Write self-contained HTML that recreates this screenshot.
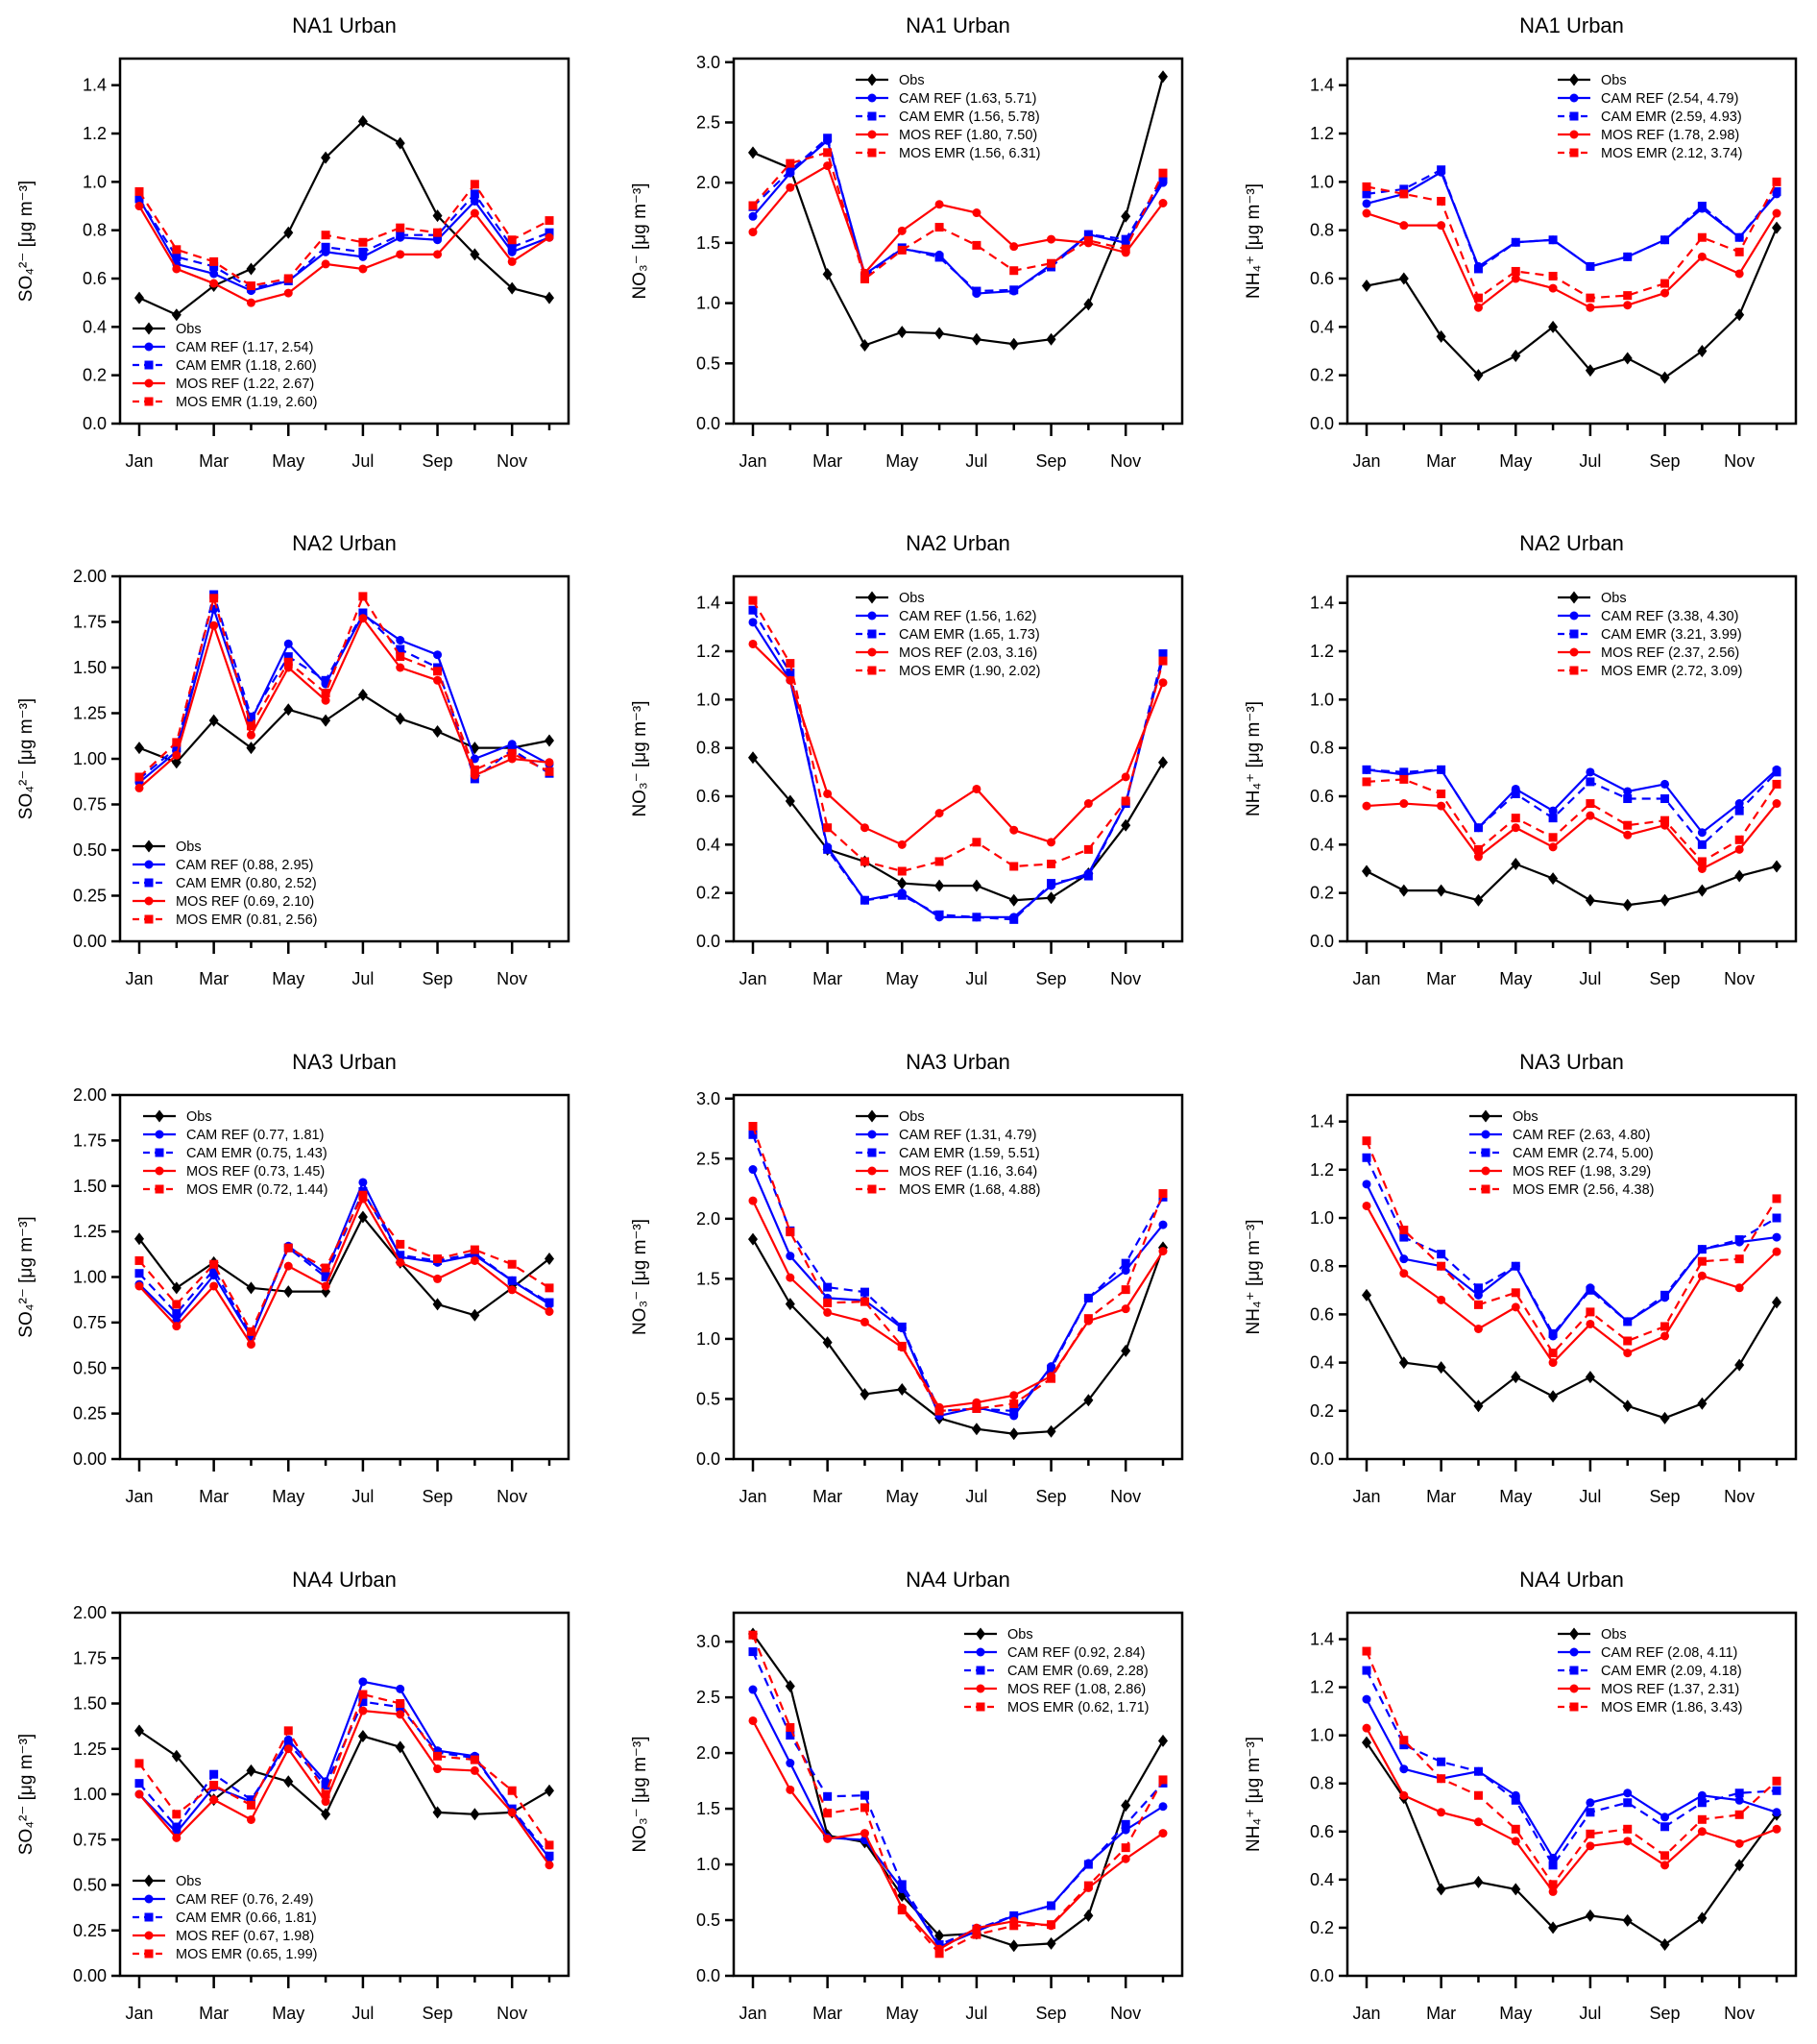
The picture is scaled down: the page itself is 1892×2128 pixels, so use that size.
<!DOCTYPE html>
<html><head><meta charset="utf-8"><style>
html,body{margin:0;padding:0;background:#fff}
svg{display:block;font-family:"Liberation Sans","DejaVu Sans",sans-serif}
</style></head><body>
<svg id="fig" width="1892" height="2128" viewBox="0 0 1892 2128" xmlns="http://www.w3.org/2000/svg"></svg>
<script>
const months = ["Jan","Feb","Mar","Apr","May","Jun","Jul","Aug","Sep","Oct","Nov","Dec"];
const seriesNames = ["Obs","CAM REF","CAM EMR","MOS REF","MOS EMR"];

const p1_obs=[.52,.45,.57,.64,.79,1.10,1.25,1.16,.86,.70,.56,.52];
const p1_camref=[.93,.66,.62,.55,.59,.71,.69,.77,.76,.92,.71,.77];
const p1_camemr=[.93,.69,.65,.56,.59,.73,.71,.78,.78,.95,.73,.79];
const p1_mosref=[.90,.64,.58,.50,.54,.66,.64,.70,.70,.87,.67,.77];
const p1_mosemr=[.96,.72,.67,.57,.60,.78,.75,.81,.79,.99,.76,.84];
const p1_leg=["(1.17, 2.54)","(1.18, 2.60)","(1.22, 2.67)","(1.19, 2.60)"];

const p2_obs=[2.25,2.12,1.24,.65,.76,.75,.70,.66,.70,.99,1.72,2.88];
const p2_camref=[1.72,2.08,2.35,1.24,1.45,1.40,1.08,1.10,1.32,1.57,1.50,2.00];
const p2_camemr=[1.80,2.10,2.37,1.22,1.46,1.38,1.10,1.11,1.30,1.57,1.53,2.03];
const p2_mosref=[1.59,1.96,2.14,1.25,1.60,1.82,1.75,1.47,1.53,1.50,1.42,1.83];
const p2_mosemr=[1.81,2.16,2.25,1.20,1.44,1.63,1.48,1.27,1.33,1.52,1.45,2.08];
const p2_leg=["(1.63, 5.71)","(1.56, 5.78)","(1.80, 7.50)","(1.56, 6.31)"];

const p3_obs=[.57,.60,.36,.20,.28,.40,.22,.27,.19,.30,.45,.81];
const p3_camref=[.91,.95,1.04,.65,.75,.76,.65,.69,.76,.89,.77,.95];
const p3_camemr=[.95,.97,1.05,.64,.75,.76,.65,.69,.76,.90,.77,.96];
const p3_mosref=[.87,.82,.82,.48,.60,.56,.48,.49,.54,.69,.62,.87];
const p3_mosemr=[.98,.95,.92,.52,.63,.61,.52,.53,.58,.77,.71,1.00];
const p3_leg=["(2.54, 4.79)","(2.59, 4.93)","(1.78, 2.98)","(2.12, 3.74)"];

const p4_obs=[1.06,.98,1.21,1.06,1.27,1.21,1.35,1.22,1.15,1.06,1.06,1.10];
const p4_camref=[.87,1.04,1.82,1.21,1.63,1.41,1.79,1.65,1.57,1.00,1.08,.97];
const p4_camemr=[.89,1.06,1.90,1.23,1.56,1.43,1.80,1.60,1.50,.89,1.05,.92];
const p4_mosref=[.84,1.02,1.73,1.13,1.50,1.32,1.77,1.50,1.43,.91,1.00,.98];
const p4_mosemr=[.90,1.09,1.88,1.18,1.53,1.36,1.89,1.56,1.48,.94,1.03,.93];
const p4_leg=["(0.88, 2.95)","(0.80, 2.52)","(0.69, 2.10)","(0.81, 2.56)"];

const p5_obs=[.76,.58,.38,.33,.24,.23,.23,.17,.18,.28,.48,.74];
const p5_camref=[1.32,1.08,.39,.17,.20,.10,.10,.10,.23,.28,.57,1.17];
const p5_camemr=[1.37,1.11,.38,.17,.19,.11,.10,.09,.24,.27,.57,1.19];
const p5_mosref=[1.23,1.08,.61,.47,.40,.53,.63,.46,.41,.57,.68,1.07];
const p5_mosemr=[1.41,1.15,.47,.33,.29,.33,.41,.31,.32,.38,.58,1.16];
const p5_leg=["(1.56, 1.62)","(1.65, 1.73)","(2.03, 3.16)","(1.90, 2.02)"];

const p6_obs=[.29,.21,.21,.17,.32,.26,.17,.15,.17,.21,.27,.31];
const p6_camref=[.71,.69,.71,.47,.63,.54,.70,.62,.65,.45,.57,.71];
const p6_camemr=[.71,.70,.71,.47,.61,.51,.66,.59,.59,.40,.54,.70];
const p6_mosref=[.56,.57,.56,.35,.47,.39,.52,.44,.48,.30,.38,.57];
const p6_mosemr=[.66,.67,.61,.38,.51,.43,.57,.48,.50,.33,.42,.65];
const p6_leg=["(3.38, 4.30)","(3.21, 3.99)","(2.37, 2.56)","(2.72, 3.09)"];

const p7_obs=[1.21,.94,1.08,.94,.92,.92,1.33,1.08,.85,.79,.94,1.10];
const p7_camref=[.96,.76,1.01,.67,1.17,1.02,1.52,1.11,1.08,1.12,.98,.85];
const p7_camemr=[1.02,.80,1.04,.68,1.16,1.00,1.47,1.12,1.09,1.13,.98,.86];
const p7_mosref=[.95,.73,.95,.63,1.06,.95,1.43,1.08,.99,1.09,.93,.81];
const p7_mosemr=[1.09,.85,1.07,.70,1.16,1.05,1.45,1.18,1.10,1.15,1.07,.94];
const p7_leg=["(0.77, 1.81)","(0.75, 1.43)","(0.73, 1.45)","(0.72, 1.44)"];

const p8_obs=[1.83,1.29,.97,.54,.58,.34,.25,.21,.23,.49,.90,1.76];
const p8_camref=[2.41,1.69,1.34,1.32,1.09,.36,.43,.36,.77,1.34,1.57,1.95];
const p8_camemr=[2.70,1.90,1.43,1.39,1.10,.40,.42,.40,.75,1.34,1.63,2.18];
const p8_mosref=[2.15,1.51,1.22,1.14,.93,.43,.47,.53,.69,1.15,1.25,1.73];
const p8_mosemr=[2.77,1.89,1.30,1.31,.94,.40,.42,.46,.67,1.17,1.41,2.21];
const p8_leg=["(1.31, 4.79)","(1.59, 5.51)","(1.16, 3.64)","(1.68, 4.88)"];

const p9_obs=[.68,.40,.38,.22,.34,.26,.34,.22,.17,.23,.39,.65];
const p9_camref=[1.14,.83,.80,.68,.80,.51,.71,.57,.67,.87,.90,.92];
const p9_camemr=[1.25,.92,.85,.71,.80,.52,.70,.57,.68,.87,.91,1.00];
const p9_mosref=[1.05,.77,.66,.54,.63,.40,.56,.44,.51,.76,.71,.86];
const p9_mosemr=[1.32,.95,.80,.64,.69,.44,.61,.49,.55,.82,.83,1.08];
const p9_leg=["(2.63, 4.80)","(2.74, 5.00)","(1.98, 3.29)","(2.56, 4.38)"];

const p10_obs=[1.35,1.21,.97,1.13,1.07,.89,1.32,1.26,.90,.89,.90,1.02];
const p10_camref=[1.00,.79,1.04,.96,1.30,1.07,1.62,1.58,1.24,1.21,.91,.65];
const p10_camemr=[1.06,.82,1.11,.97,1.28,1.05,1.51,1.48,1.23,1.20,.92,.66];
const p10_mosref=[1.00,.76,.97,.86,1.25,.96,1.46,1.44,1.14,1.13,.90,.61];
const p10_mosemr=[1.17,.89,1.05,.94,1.35,1.00,1.55,1.50,1.21,1.19,1.02,.72];
const p10_leg=["(0.76, 2.49)","(0.66, 1.81)","(0.67, 1.98)","(0.65, 1.99)"];

const p11_obs=[3.07,2.60,1.26,1.20,.72,.36,.38,.27,.29,.54,1.53,2.11];
const p11_camref=[2.57,1.91,1.24,1.22,.78,.26,.40,.54,.63,1.01,1.31,1.52];
const p11_camemr=[2.91,2.16,1.61,1.62,.82,.28,.42,.54,.63,1.00,1.36,1.73];
const p11_mosref=[2.29,1.67,1.23,1.28,.61,.24,.43,.49,.45,.79,1.05,1.28];
const p11_mosemr=[3.06,2.23,1.46,1.51,.59,.20,.37,.45,.46,.81,1.15,1.76];
const p11_leg=["(0.92, 2.84)","(0.69, 2.28)","(1.08, 2.86)","(0.62, 1.71)"];

const p12_obs=[.97,.74,.36,.39,.36,.20,.25,.23,.13,.24,.46,.67];
const p12_camref=[1.15,.86,.82,.85,.75,.49,.72,.76,.66,.75,.73,.68];
const p12_camemr=[1.27,.96,.89,.85,.73,.46,.68,.72,.62,.72,.76,.77];
const p12_mosref=[1.03,.75,.68,.64,.56,.35,.54,.56,.46,.60,.55,.61];
const p12_mosemr=[1.35,.98,.82,.75,.61,.38,.59,.61,.50,.65,.67,.81];
const p12_leg=["(2.08, 4.11)","(2.09, 4.18)","(1.37, 2.31)","(1.86, 3.43)"];

const ticksA=[0,0.2,0.4,0.6,0.8,1.0,1.2,1.4];
const ticksB=[0,0.5,1.0,1.5,2.0,2.5,3.0];
const ticksC=[0,0.25,0.5,0.75,1.0,1.25,1.5,1.75,2.0];
const ticksD=[0,0.2,0.4,0.6,0.8,1.0,1.2,1.4];

const NS="http://www.w3.org/2000/svg";
const svg=document.getElementById('fig');
function mk(tag,attrs,parent){const e=document.createElementNS(NS,tag);for(const k in attrs)e.setAttribute(k,attrs[k]);(parent||svg).appendChild(e);return e;}

const colX=[[125,592],[764,1231],[1403,1870]];
const rowY=[[61,441],[600,980],[1140,1519],[1679,2057]];
const labSO4="SO₄²⁻  [μg m⁻³]", labNO3="NO₃⁻ [μg m⁻³]", labNH4="NH₄⁺ [μg m⁻³]";

const panels=[
 {r:0,c:0,t:"NA1 Urban",d:[p1_obs,p1_camref,p1_camemr,p1_mosref,p1_mosemr],L:p1_leg,ymax:1.51,ticks:ticksA,dec:1,lab:labSO4,leg:{dx:13,bottom:true}},
 {r:0,c:1,t:"NA1 Urban",d:[p2_obs,p2_camref,p2_camemr,p2_mosref,p2_mosemr],L:p2_leg,ymax:3.03,ticks:ticksB,dec:1,lab:labNO3,leg:{dx:127}},
 {r:0,c:2,t:"NA1 Urban",d:[p3_obs,p3_camref,p3_camemr,p3_mosref,p3_mosemr],L:p3_leg,ymax:1.51,ticks:ticksD,dec:1,lab:labNH4,leg:{dx:219}},
 {r:1,c:0,t:"NA2 Urban",d:[p4_obs,p4_camref,p4_camemr,p4_mosref,p4_mosemr],L:p4_leg,ymax:2.0,ticks:ticksC,dec:2,lab:labSO4,leg:{dx:13,bottom:true}},
 {r:1,c:1,t:"NA2 Urban",d:[p5_obs,p5_camref,p5_camemr,p5_mosref,p5_mosemr],L:p5_leg,ymax:1.51,ticks:ticksD,dec:1,lab:labNO3,leg:{dx:127}},
 {r:1,c:2,t:"NA2 Urban",d:[p6_obs,p6_camref,p6_camemr,p6_mosref,p6_mosemr],L:p6_leg,ymax:1.51,ticks:ticksD,dec:1,lab:labNH4,leg:{dx:219}},
 {r:2,c:0,t:"NA3 Urban",d:[p7_obs,p7_camref,p7_camemr,p7_mosref,p7_mosemr],L:p7_leg,ymax:2.0,ticks:ticksC,dec:2,lab:labSO4,leg:{dx:24}},
 {r:2,c:1,t:"NA3 Urban",d:[p8_obs,p8_camref,p8_camemr,p8_mosref,p8_mosemr],L:p8_leg,ymax:3.03,ticks:ticksB,dec:1,lab:labNO3,leg:{dx:127}},
 {r:2,c:2,t:"NA3 Urban",d:[p9_obs,p9_camref,p9_camemr,p9_mosref,p9_mosemr],L:p9_leg,ymax:1.51,ticks:ticksD,dec:1,lab:labNH4,leg:{dx:127}},
 {r:3,c:0,t:"NA4 Urban",d:[p10_obs,p10_camref,p10_camemr,p10_mosref,p10_mosemr],L:p10_leg,ymax:2.0,ticks:ticksC,dec:2,lab:labSO4,leg:{dx:13,bottom:true}},
 {r:3,c:1,t:"NA4 Urban",d:[p11_obs,p11_camref,p11_camemr,p11_mosref,p11_mosemr],L:p11_leg,ymax:3.26,ticks:ticksB,dec:1,lab:labNO3,leg:{dx:240}},
 {r:3,c:2,t:"NA4 Urban",d:[p12_obs,p12_camref,p12_camemr,p12_mosref,p12_mosemr],L:p12_leg,ymax:1.51,ticks:ticksD,dec:1,lab:labNH4,leg:{dx:219}}
];
const colors=["#000","#0000ff","#0000ff","#ff0000","#ff0000"];
const dashes=[null,null,"9,6",null,"9,6"];
const mtype=["d","o","s","o","s"];

function marker(g,type,x,y,col){
  let m;
  if(type==="d") m=mk('polygon',{points:`${x},${y-6.5} ${x+5},${y} ${x},${y+6.5} ${x-5},${y}`,fill:col},g);
  else if(type==="o") m=mk('circle',{cx:x,cy:y,r:4.5,fill:col},g);
  else m=mk('rect',{x:x-4.5,y:y-4.5,width:9,height:9,fill:col},g);
  return m;
}

panels.forEach((p,pi)=>{
  const [x0,x1]=colX[p.c],[y0,y1]=rowY[p.r];
  const g=mk('g',{});
  
  
  const xs=i=>x0+20+i*(x1-x0-40)/11;
  const ys=v=>y1-v/p.ymax*(y1-y0);
  const t=mk('text',{x:(x0+x1)/2,y:y0-27,'text-anchor':'middle','font-size':22,fill:'#000'},g);
  t.textContent=p.t;
  
  
  p.ticks.forEach(v=>{
    const y=ys(v);
    mk('line',{x1:x0-9,x2:x0,y1:y,y2:y,stroke:'#000','stroke-width':2.5},g);
    const tl=mk('text',{x:x0-14,y:y+6,'text-anchor':'end','font-size':18},g);
    tl.textContent=v.toFixed(p.dec);
    
    
  });
  months.forEach((m,i)=>{
    const x=xs(i),major=i%2===0;
    mk('line',{x1:x,x2:x,y1:y1,y2:y1+(major?13:7),stroke:'#000','stroke-width':2.5},g);
    if(major){
      const xl=mk('text',{x:x,y:y1+45,'text-anchor':'middle','font-size':18},g);
      xl.textContent=m;
      
      
    }
  });
  const yl=mk('text',{x:0,y:0,'text-anchor':'middle','font-size':19,transform:`translate(${x0-92},${(y0+y1)/2}) rotate(-90)`},g);
  yl.textContent=p.lab;
  
  
  p.d.forEach((arr,si)=>{
    const sg=mk('g',{},g);
    
    
    const pts=arr.map((v,i)=>xs(i)+','+ys(v)).join(' ');
    const pl=mk('polyline',{points:pts,fill:'none',stroke:colors[si],'stroke-width':2.2},sg);
    if(dashes[si]) pl.setAttribute('stroke-dasharray',dashes[si]);
    arr.forEach((v,i)=>marker(sg,mtype[si],xs(i),ys(v),colors[si]));
  });
  mk('rect',{x:x0,y:y0,width:x1-x0,height:y1-y0,fill:'none',stroke:'#000','stroke-width':2.5},g);
  const lg=mk('g',{},g);
  
  
  const ly0=p.leg.bottom? y1-99 : y0+22;
  const lx=x0+p.leg.dx;
  seriesNames.forEach((n,si)=>{
    const y=ly0+si*19;
    const e=mk('line',{x1:lx,x2:lx+34,y1:y,y2:y,stroke:colors[si],'stroke-width':2.2},lg);
    if(dashes[si]) e.setAttribute('stroke-dasharray','7,5');
    marker(lg,mtype[si],lx+17,y,colors[si]);
    const tx=mk('text',{x:lx+45,y:y+5,'font-size':14.5},lg);
    tx.textContent=si===0?n:n+' '+p.L[si-1];
    
    
  });
});
</script>
</body></html>
